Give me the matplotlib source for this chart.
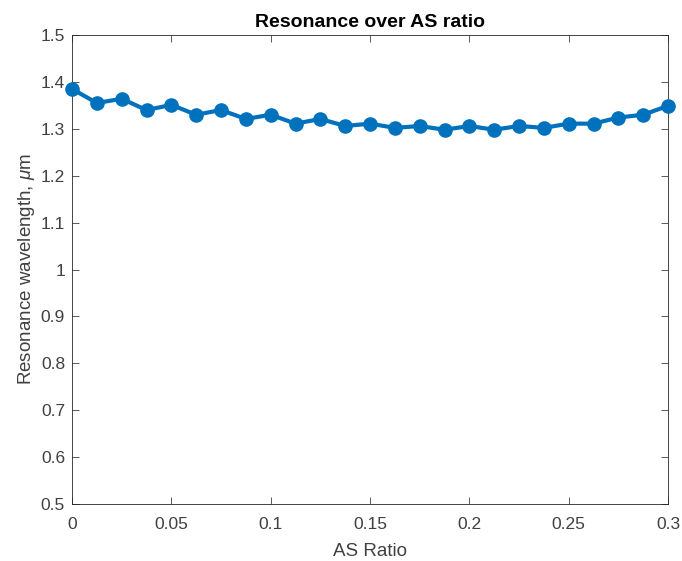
import numpy as np
import matplotlib
matplotlib.use('Agg')
import matplotlib.pyplot as plt

plt.rcParams['font.family'] = ['Liberation Sans', 'DejaVu Sans']
plt.rcParams['mathtext.fontset'] = 'custom'
plt.rcParams['mathtext.it'] = 'Liberation Sans:italic'
plt.rcParams['mathtext.rm'] = 'Liberation Sans'

# data
as_ratio = [0, 0.0125, 0.025, 0.0375, 0.05, 0.0625, 0.075, 0.0875, 0.1, 0.1125,
            0.125, 0.1375, 0.15, 0.1625, 0.175, 0.1875, 0.2, 0.2125, 0.225, 0.2375,
            0.25, 0.2625, 0.275, 0.2875, 0.3]
resonance = [1.385, 1.355, 1.364, 1.340, 1.351, 1.330, 1.340, 1.321, 1.330, 1.311,
             1.321, 1.306, 1.311, 1.302, 1.306, 1.298, 1.306, 1.298, 1.306, 1.302,
             1.311, 1.311, 1.324, 1.330, 1.349]
xticks = [0, 0.05, 0.1, 0.15, 0.2, 0.25, 0.3]
xticklabels = ['0', '0.05', '0.1', '0.15', '0.2', '0.25', '0.3']
yticks = [0.5, 0.6, 0.7, 0.8, 0.9, 1.0, 1.1, 1.2, 1.3, 1.4, 1.5]
yticklabels = ['0.5', '0.6', '0.7', '0.8', '0.9', '1', '1.1', '1.2', '1.3', '1.4', '1.5']

fig = plt.figure(figsize=(6.82, 5.61), dpi=100)
ax = fig.add_axes([0.1056, 0.1016, 0.8739, 0.836])

ax.plot(as_ratio, resonance, '-o', color='#0072BD', linewidth=3, markersize=9.5,
        clip_on=False, zorder=3)

ax.set_xlim(0, 0.3)
ax.set_ylim(0.5, 1.5)
ax.set_xticks(xticks)
ax.set_xticklabels(xticklabels)
ax.set_yticks(yticks)
ax.set_yticklabels(yticklabels)

ax.tick_params(direction='in', top=True, right=True, labelsize=12.5, colors='#404040',
               length=5, width=0.6)
ax.tick_params(axis='x', pad=9)
ax.tick_params(axis='y', pad=5)
for s in ax.spines.values():
    s.set_linewidth(0.6)
    s.set_color('#262626')

ax.set_title('Resonance over AS ratio', fontsize=14, fontweight='bold', pad=6)
ax.set_xlabel('AS Ratio', fontsize=13.5, color='#404040', labelpad=8)
ax.set_ylabel(r'Resonance wavelength, $\mu$m', fontsize=13.5, color='#404040', labelpad=3)

fig.savefig('out.png', dpi=100)
